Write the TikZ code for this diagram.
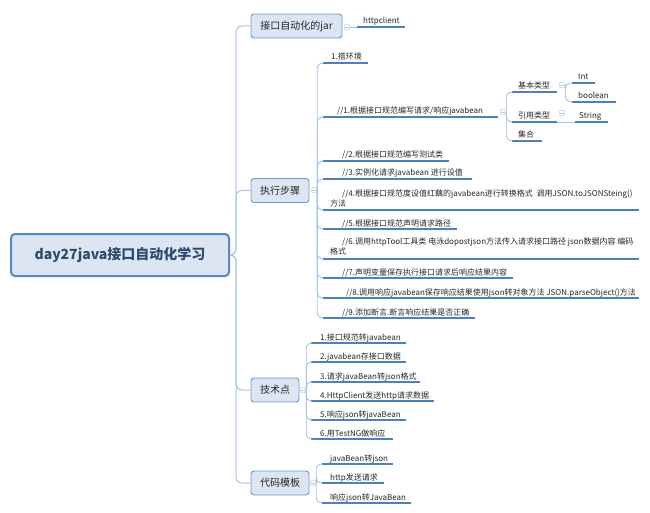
\documentclass[tikz,border=0pt]{standalone}
\usepackage{fontspec}
\setmainfont{Noto Sans CJK SC}
\usetikzlibrary{positioning}
\definecolor{boxfill}{HTML}{DCE6F2}
\definecolor{boxline}{HTML}{6F95C9}
\definecolor{rootline}{HTML}{5A86C4}
\definecolor{ulcol}{HTML}{4E7FBF}
\definecolor{conncol}{HTML}{A9C1E3}
\definecolor{txt}{HTML}{262626}
\definecolor{roottxt}{HTML}{2E4A6E}
\definecolor{circ}{HTML}{BCCBDD}
\tikzset{
  rootbox/.style={draw=rootline, fill=boxfill, line width=2pt, rounded corners=4pt,
    minimum width=218pt, minimum height=42pt, inner sep=0pt,
    font=\fontsize{14}{16}\selectfont\bfseries, text=roottxt},
  branchbox/.style={draw=boxline, fill=boxfill, line width=0.9pt, rounded corners=3pt,
    minimum height=24pt, inner sep=0pt, font=\fontsize{10}{12}\selectfont, text=txt},
  leaf/.style={anchor=base west, inner sep=0pt, font=\fontsize{8}{10}\selectfont, text=txt},
  leaftwo/.style={anchor=north west, inner sep=0pt, align=left, font=\fontsize{8}{10}\selectfont, text=txt},
  ul/.style={draw=ulcol, line width=1.5pt},
  trunk/.style={draw=conncol, line width=1pt, rounded corners=6pt},
  conn/.style={draw=conncol, line width=0.9pt, rounded corners=5pt},
  collapse/.style={circle, draw=circ, fill=white, line width=0.5pt, minimum size=6pt, inner sep=0pt,
    path picture={\draw[circ, line width=0.5pt] ([xshift=1.4pt]path picture bounding box.west) -- ([xshift=-1.4pt]path picture bounding box.east);}}
}
\newcommand\leafnode[6]{% name, ulstart, ulend, uly, textx, text
  \coordinate (#1-a) at (#2,#4);
  \coordinate (#1-b) at (#3,#4);
  \node[leaf] (#1) at (#5,#4-3) {#6};
  \draw[ul] (#1-a) -- (#1-b);
}
\begin{document}
\begin{tikzpicture}[x=1pt,y=-1pt]
\useasboundingbox (0,0) rectangle (650,513);

% root and branches
\node[rootbox] (root) at (120,255) {day27java接口自动化学习};
\node[branchbox, minimum width=91pt] (jar) at (296.5,26) {接口自动化的jar};
\node[branchbox, minimum width=58pt] (exe) at (280,190.5) {执行步骤};
\node[branchbox, minimum width=48pt] (tech) at (275,390) {技术点};
\node[branchbox, minimum width=58pt] (tmpl) at (280,483) {代码模板};

\draw[trunk] (root.east) -- ++(6,0) |- (jar.west);
\draw[trunk] (root.east) -- ++(6,0) |- (exe.west);
\draw[trunk] (root.east) -- ++(6,0) |- (tech.west);
\draw[trunk] (root.east) -- ++(6,0) |- (tmpl.west);

% collapse markers
\node[collapse] (cjar) at (347,27) {};
\node[collapse] (cexe) at (314,190) {};
\node[collapse] (ctech) at (303,390) {};
\node[collapse] (ctmpl) at (313,483) {};

% jar
\leafnode{h1}{357}{405}{27}{363}{httpclient}
\draw[conn] (cjar.east) -- (h1-a);

% execution steps
\leafnode{s1}{323}{368}{63}{331}{1.搭环境}
\leafnode{s2}{323}{498}{117}{337}{//1.根据接口规范编写请求/响应javabean}
\leafnode{s3}{323}{449}{161}{342}{//2.根据接口规范编写测试类}
\leafnode{s4}{323}{472}{179}{342}{//3.实例化请求javabean 进行设值}
\coordinate (s5-a) at (323,210);
\coordinate (s5-b) at (639,210);
\node[leaftwo] (s5) at (330,190) {\hspace*{12pt}//4.根据接口规范度设值红藕的javabean进行转换格式\ \ 调用JSON.toJSONSteing()\\方法};
\draw[ul] (s5-a) -- (s5-b);
\leafnode{s6}{323}{457}{229}{342}{//5.根据接口规范声明请求路径}
\coordinate (s7-a) at (323,259);
\coordinate (s7-b) at (639,259);
\node[leaftwo] (s7) at (330,238) {\hspace*{12pt}//6.调用httpTool工具类 电泳dopostjson方法传入请求接口路径 json数据内容 编码\\格式};
\draw[ul] (s7-a) -- (s7-b);
\leafnode{s8}{323}{513}{278}{342}{//7.声明变量保存执行接口请求后响应结果内容}
\leafnode{s9}{323}{639}{298}{346}{//8.调用响应javabean保存响应结果使用json转对象方法 JSON.parseObject()方法}
\leafnode{s10}{323}{475}{318}{342}{//9.添加断言.断言响应结果是否正确}
\foreach \n in {s1,s2,s3,s4,s5,s6,s7,s8,s9,s10}{\draw[conn] (cexe.east) |- (\n-a);}

% sub-branches of //1
\node[collapse] (c1) at (503,112) {};
\leafnode{k1}{512}{557}{92}{518}{基本类型}
\leafnode{k2}{512}{557}{122}{518}{引用类型}
\leafnode{k3}{512}{542}{141}{518}{集合}
\foreach \n in {k1,k2,k3}{\draw[conn, rounded corners=6pt] (c1.east) |- (\n-a);}
\node[collapse] (c2) at (562,85) {};
\node[collapse] (c3) at (562,113) {};
\leafnode{i1}{572}{595}{83}{578}{Int}
\leafnode{i2}{572}{616}{102}{578}{boolean}
\leafnode{i3}{575}{608}{122}{579}{String}
\draw[conn] (c2.east) |- (i1-a);
\draw[conn, rounded corners=6pt] (c2.east) |- (i2-a);
\draw[conn] (k2-b) -- (i3-a);

% technical points
\leafnode{t1}{311}{406}{343}{320}{1.接口规范转javabean}
\leafnode{t2}{311}{406}{362}{320}{2.javabean存接口数据}
\leafnode{t3}{311}{420}{382}{320}{3.请求javaBean转json格式}
\leafnode{t4}{311}{434}{401}{320}{4.HttpClient发送http请求数据}
\leafnode{t5}{311}{406}{420}{320}{5.响应json转javaBean}
\leafnode{t6}{311}{393}{439}{320}{6.用TestNG做响应}
\foreach \n in {t1,t2,t3,t4,t5,t6}{\draw[conn] (ctech.east) |- (\n-a);}

% code templates
\leafnode{m1}{322}{393}{464}{330}{javaBean转json}
\leafnode{m2}{322}{384}{483}{330}{http发送请求}
\leafnode{m3}{322}{411}{503}{330}{响应json转JavaBean}
\foreach \n in {m1,m2,m3}{\draw[conn] (ctmpl.east) |- (\n-a);}
\end{tikzpicture}
\end{document}
